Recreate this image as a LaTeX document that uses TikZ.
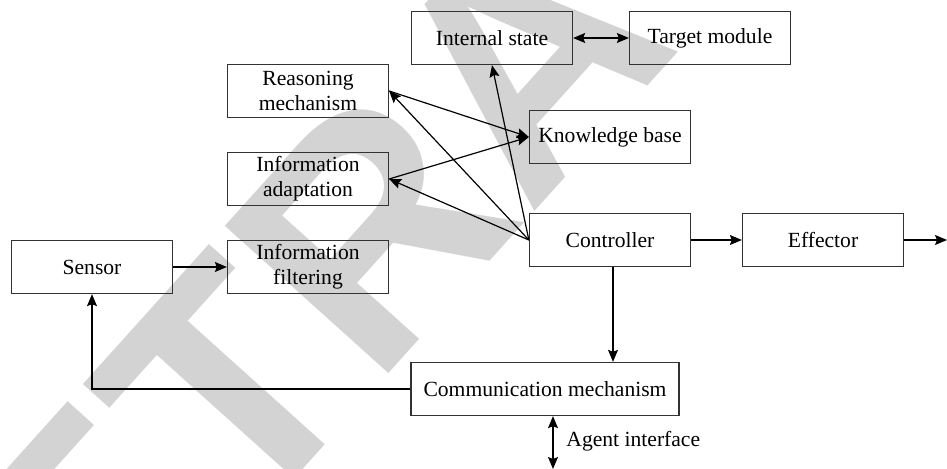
\documentclass[tikz,border=0pt]{standalone}
\usepackage{fontspec}
\setmainfont{Liberation Serif}
\setsansfont{Liberation Sans}
\usetikzlibrary{arrows.meta}
\definecolor{wmgray}{RGB}{211,211,211}
\definecolor{boxgray}{RGB}{50,50,50}

\begin{document}
\begin{tikzpicture}[x=0.5pt,y=0.5pt,yscale=-1,xscale=1,
  blk/.style={draw=boxgray,line width=0.65pt,minimum width=80.5pt,minimum height=26.5pt,inner sep=0pt,align=center,font=\fontsize{10.8}{12.5}\selectfont},
  arr/.style={line width=0.6pt,-{Stealth[length=6pt,width=5pt,inset=1pt]}},
  darr/.style={line width=0.6pt,{Stealth[length=6pt,width=5pt,inset=1pt]}-{Stealth[length=6pt,width=5pt,inset=1pt]}}]
\useasboundingbox (0,0) rectangle (947,469);

%Watermark
\begin{scope}
\clip (0,0) rectangle (947,469);
\node[text=wmgray,rotate=48,inner sep=0pt,font=\sffamily\bfseries\fontsize{160}{160}\selectfont] (wm) at (525,58) {RETRACTED};
\end{scope}

%Shape: Rectangle
\node[blk] (intstate) at (492,38) {Internal state};
\node[blk] (target) at (710,38) {Target module};
\node[blk] (reason) at (308,91) {Reasoning\\mechanism};
\node[blk] (kbase) at (610,137) {Knowledge base};
\node[blk] (adapt) at (308,179) {Information\\adaptation};
\node[blk] (ctrl) at (610,240) {Controller};
\node[blk] (effect) at (823,240) {Effector};
\node[blk] (sensor) at (92,267) {Sensor};
\node[blk] (filter) at (308,267) {Information\\filtering};
\node[blk,minimum width=134pt] (comm) at (545,389) {Communication mechanism};

% Text Node
\node[anchor=west,inner sep=0pt,font=\fontsize{10.8}{12.5}\selectfont] (agentlbl) at (566,441) {Agent interface};
\coordinate (out) at (947,240);
\coordinate (agent) at (553,469);

%Straight Lines
\draw[darr] (intstate) -- (target);
\draw[arr] (ctrl.west) -- (reason.east);
\draw[arr] (ctrl.west) -- (adapt.east);
\draw[arr] (ctrl.west) -- (intstate.south);
\draw[arr] (reason.east) -- (kbase.west);
\draw[arr] (adapt.east) -- (kbase.west);
\draw[arr] (ctrl) -- (effect);
\draw[arr] (effect) -- (out);
\draw[arr] ([xshift=1.5pt]ctrl.south) -- ([xshift=1.5pt]ctrl.south |- comm.north);
\draw[arr] (comm.west) -| (sensor.south);
\draw[arr] (sensor) -- (filter);
\draw[darr] (agent |- comm.south) -- (agent);

\end{tikzpicture}
\end{document}
